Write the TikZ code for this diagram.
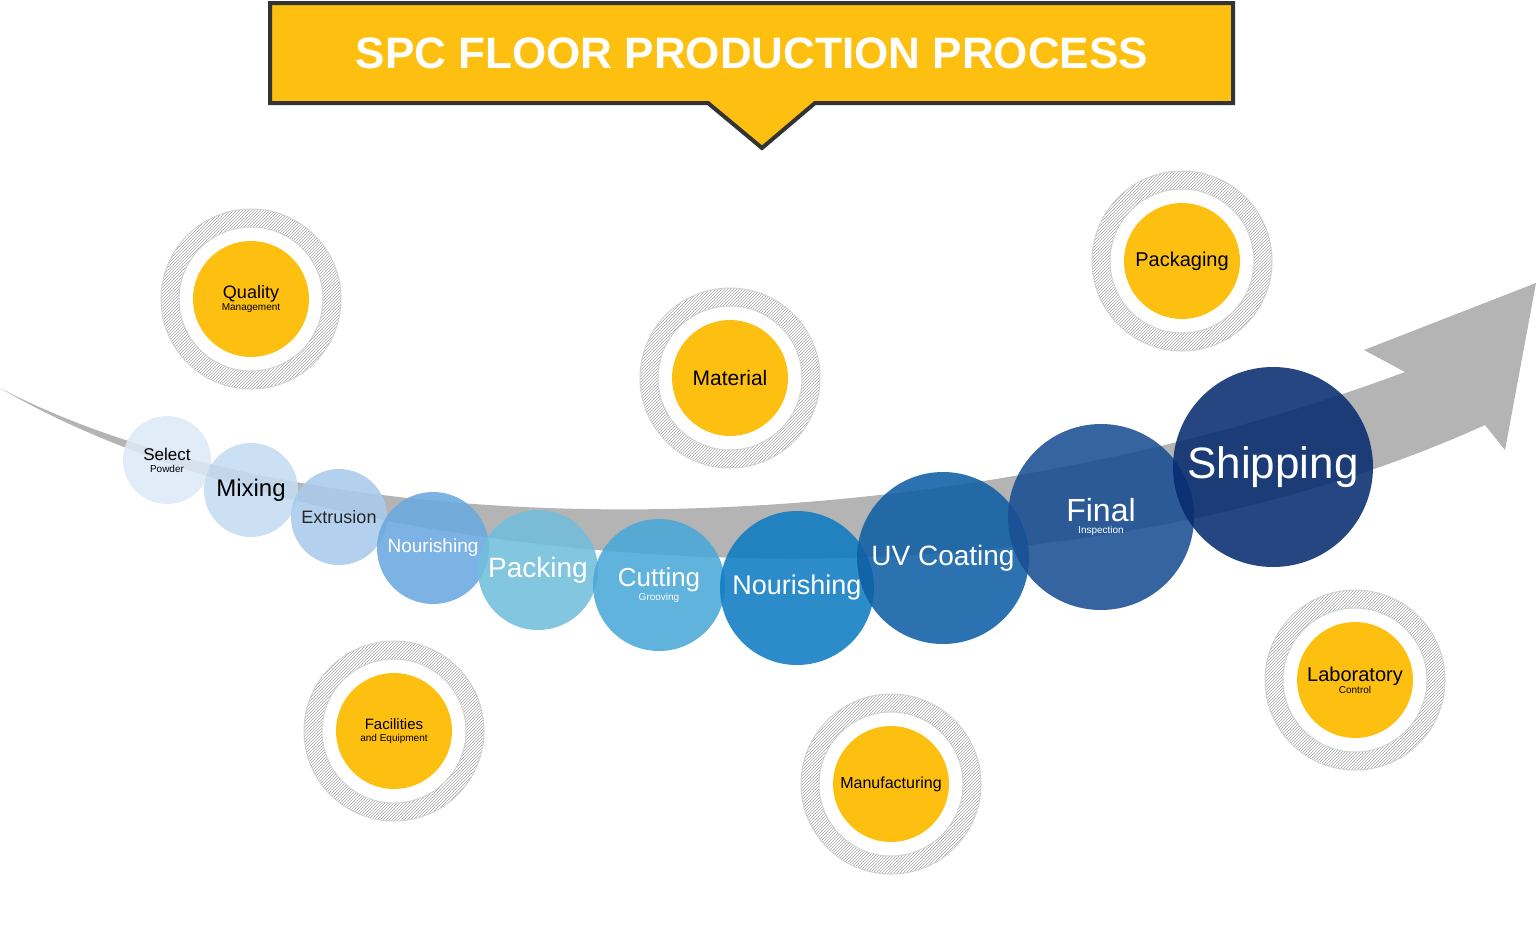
\documentclass[tikz,border=0pt]{standalone}
\usepackage{fontspec}
\setmainfont{Liberation Sans}
\usetikzlibrary{patterns}
\definecolor{banner}{HTML}{FDC010}
\definecolor{frame}{HTML}{333333}
\definecolor{band}{HTML}{B4B4B4}
\tikzset{
    stage/.style={circle, fill opacity=0.88, text opacity=1, align=center, inner sep=0pt, text=white},
    topic/.style={circle, fill=banner, align=center, inner sep=0pt, minimum size=116pt},
    ring/.style={pattern=north east lines, pattern color=gray!70, draw=gray!35, line width=1pt, even odd rule}
}
\begin{document}
\begin{tikzpicture}[x=1pt, y=-1pt]
    \useasboundingbox (0,0) rectangle (1536,948);

    % title banner
    \draw [line width=4pt, draw=frame, fill=banner, line join=miter]
        (270,3) -- (1233,3) -- (1233,103) -- (815,103) -- (762,148) -- (708,103) -- (270,103) -- cycle;
    \node (title) at (752,53) {\fontsize{44}{44}\selectfont\bfseries\color{white}SPC FLOOR PRODUCTION PROCESS};

    % gray arrow band
    \fill [band] (0,388) .. controls (300,545) and (900,560) .. (1405,372)
        -- (1364,350) -- (1536,283) -- (1505,450) -- (1485,425)
        .. controls (1000,645) and (300,565) .. (0,388) -- cycle;

    % hatched rings
    \foreach \cx/\cy in {251/299, 730/378, 1182/261, 394/731, 891/784, 1355/680} {
        \path [ring] (\cx,\cy) circle (90) (\cx,\cy) circle (72);
    }

    % process stages
    \node [stage, fill={rgb,255:red,220;green,233;blue,246}, minimum size=88pt, text=black] (s1) at (167,460) {\fontsize{17}{17}\selectfont Select\\Powder};
    \node [stage, fill={rgb,255:red,197;green,220;blue,242}, minimum size=94pt, text=black] (s2) at (251,490) {\fontsize{24}{24}\selectfont Mixing};
    \node [stage, fill={rgb,255:red,169;green,203;blue,236}, minimum size=96pt, text=black!85] (s3) at (339,517) {\fontsize{18}{18}\selectfont Extrusion};
    \node [stage, fill={rgb,255:red,106;green,169;blue,224}, minimum size=112pt] (s4) at (433,548) {\fontsize{19}{19}\selectfont Nourishing};
    \node [stage, fill={rgb,255:red,114;green,190;blue,220}, minimum size=120pt] (s5) at (538,570) {\fontsize{28}{28}\selectfont Packing};
    \node [stage, fill={rgb,255:red,74;green,168;blue,216}, minimum size=132pt] (s6) at (659,585) {\fontsize{26}{26}\selectfont Cutting\\Grooving};
    \node [stage, fill={rgb,255:red,14;green,124;blue,193}, minimum size=154pt] (s7) at (797,588) {\fontsize{27}{27}\selectfont Nourishing};
    \node [stage, fill={rgb,255:red,15;green,95;blue,165}, minimum size=172pt] (s8) at (943,558) {\fontsize{28}{28}\selectfont UV Coating};
    \node [stage, fill={rgb,255:red,26;green,78;blue,147}, minimum size=186pt] (s9) at (1101,517) {\fontsize{32}{34}\selectfont Final\\Inspection};
    \node [stage, fill={rgb,255:red,7;green,44;blue,112}, minimum size=200pt] (s10) at (1273,467) {\fontsize{44}{44}\selectfont Shipping};

    % topics
    \node [topic] (quality) at (251,299) {\fontsize{18}{22}\selectfont Quality\\Management};
    \node [topic] (material) at (730,378) {\fontsize{21}{21}\selectfont Material};
    \node [topic] (packaging) at (1182,261) {\fontsize{20}{20}\selectfont Packaging};
    \node [topic] (facilities) at (394,731) {\fontsize{15}{23}\selectfont Facilities\\and Equipment};
    \node [topic] (manufacturing) at (891,784) {\fontsize{16}{16}\selectfont Manufacturing};
    \node [topic] (laboratory) at (1355,680) {\fontsize{20}{22}\selectfont Laboratory\\Control};
\end{tikzpicture}
\end{document}
